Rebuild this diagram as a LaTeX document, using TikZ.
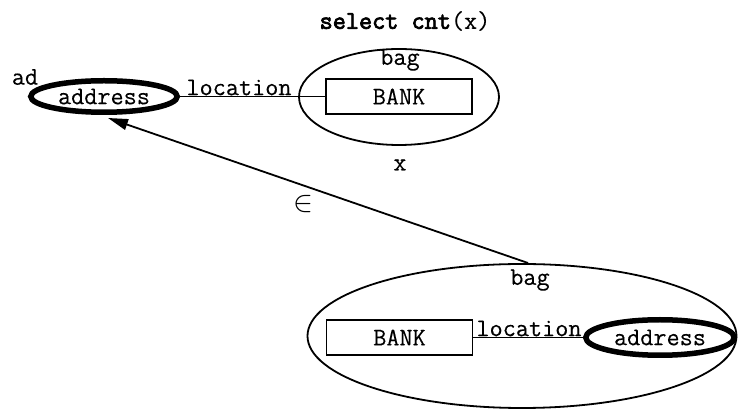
\documentclass[tikz,border=0pt]{standalone}
\usepackage{fontspec}
\setmonofont{Latin Modern Mono}[FakeBold=0.25]
\newfontfamily\boldtt{Latin Modern Mono}[FakeBold=3]
\usetikzlibrary{shapes.geometric,arrows.meta}
\begin{document}
\begin{tikzpicture}[x=1pt,y=-1pt,
  every node/.style={font=\ttfamily\fontsize{25.5}{30}\selectfont, inner sep=0pt},
  thin line/.style={line width=1.8pt},
  bagshape/.style={draw, thin line, ellipse},
  entbox/.style={draw, thin line, rectangle, minimum width=146pt, minimum height=35pt},
  attrell/.style={draw, line width=5.5pt, ellipse},
  lbl/.style={}
]
\useasboundingbox (0,0) rectangle (740,411);

% title
\node (title) at (405,21) {{\boldtt select cnt}(x)};

% top bag
\node[bagshape, minimum width=200pt, minimum height=96pt] (bag1) at (399,97) {};
\node[lbl] (bag1lbl) at (400,60) {bag};
\node[entbox] (bank1) at (399,96.5) {BANK};
\node[lbl] (xlbl) at (400,165) {x};

% left address
\node[attrell, minimum width=146.5pt, minimum height=31.5pt] (addr1) at (104,96.5) {address};
\node[lbl] (adlbl) at (25,77) {ad};
\draw[thin line] (addr1.east) -- (bank1.west);
\node[lbl, anchor=south] (loc1) at (239,95.5) {location};

% bottom bag
\node[bagshape, minimum width=429pt, minimum height=144pt] (bag2) at (522,336) {};
\node[lbl] (bag2lbl) at (530,280) {bag};
\node[entbox] (bank2) at (399.5,337.5) {BANK};
\node[attrell, minimum width=148.5pt, minimum height=35.5pt] (addr2) at (660,337.5) {address};
\draw[thin line] (bank2.east) -- (addr2.west);
\node[lbl, anchor=south] (loc2) at (529,336.5) {location};

% membership arrow
\coordinate (tip) at (108,118);
\coordinate (start) at (528,263);
\draw[thin line, -{Triangle[length=20pt,width=11pt]}] (start) -- (tip);
\node[lbl, scale=1.2] (inlbl) at (303.5,204) {$\in$};
\end{tikzpicture}
\end{document}
